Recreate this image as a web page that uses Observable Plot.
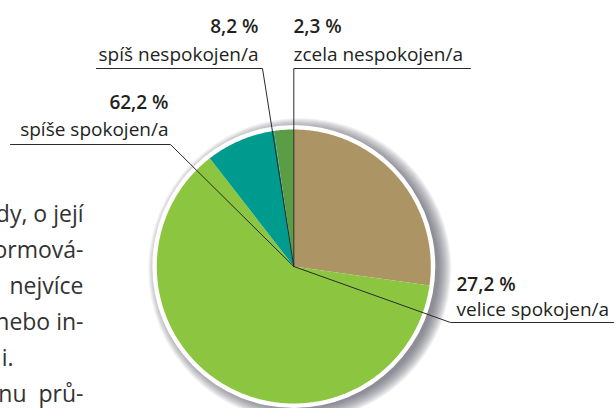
<!DOCTYPE html>
<html><head><meta charset="utf-8">
<script src="https://cdn.jsdelivr.net/npm/d3@7"></script>
<script src="https://cdn.jsdelivr.net/npm/@observablehq/plot@0.6"></script>
<style>html,body{margin:0;padding:0;background:#fff;overflow:hidden}</style>
</head><body><div id="chart"></div>
<script>
// ---- data ----
const categories = ["velice spokojen/a", "spíše spokojen/a", "spíš nespokojen/a", "zcela nespokojen/a"];
const values = [27.2, 62.2, 8.2, 2.3];
const valueLabels = ["27,2 %", "62,2 %", "8,2 %", "2,3 %"];
const colors = ["#ad9464", "#8cc540", "#009b8f", "#5b9d45"];
const bodyLines = ["dy, o její", "ormová-", "nejvíce", "nebo in-", "i.", "nu\u00a0\u00a0prů-"];

// ---- layout ----
const W = 614, H = 408, cx = 293.3, cy = 266, R = 137, ring = 4.5;
const labelLayout = [
  {x: 456, anchor: "start", yNum: 290, yText: 315, bend: [450, 322], end: [613, 322]},
  {x: 168, anchor: "end", yNum: 108, yText: 135, bend: [170, 144], end: [10, 144]},
  {x: 258, anchor: "end", yNum: 32, yText: 60, bend: [262, 68], end: [96, 68]},
  {x: 293, anchor: "start", yNum: 32, yText: 60, bend: [cx, 68], end: [470, 68]}
];
const bodyLayout = {xs: [83, 83, 83, 83, 13, 83], y0: 221, step: 36};
// soft drop shadow: stacked translucent discs, offset to the lower right
const shadowSteps = d3.range(14).map(k => ({x: cx + 6, y: cy + 3, r: R + ring - 3 + k}));

const arcs = d3.pie().sort(null)(values);
const slices = arcs.map((a, i) => {
  const pts = [{x: cx, y: cy}];
  const n = Math.max(2, Math.ceil((a.endAngle - a.startAngle) / (Math.PI / 360)));
  for (let k = 0; k <= n; k++) {
    const t = a.startAngle + (a.endAngle - a.startAngle) * k / n;
    pts.push({x: cx + R * Math.sin(t), y: cy - R * Math.cos(t)});
  }
  return {pts, color: colors[i], name: categories[i]};
});

const font = "'Open Sans', 'Noto Sans', sans-serif";
const marks = [
  ...shadowSteps.map(d => Plot.dot([d], {x: "x", y: "y", r: d.r, fill: "#555562", fillOpacity: 0.07, stroke: "none"})),
  Plot.dot([{x: cx, y: cy}], {x: "x", y: "y", r: R + ring, fill: "#fff", stroke: "none"}),
  ...slices.map(s => Plot.line(s.pts, {x: "x", y: "y", fill: s.color, stroke: "none", curve: "linear"})),
  ...labelLayout.map(l => Plot.line([{x: cx, y: cy}, {x: l.bend[0], y: l.bend[1]}, {x: l.end[0], y: l.end[1]}],
      {x: "x", y: "y", stroke: "#2a2a2a", strokeWidth: 1})),
  ...labelLayout.flatMap((l, i) => [
    Plot.text([valueLabels[i]], {x: () => l.x, y: () => l.yNum, text: d => d, textAnchor: l.anchor, lineAnchor: "bottom",
      fontSize: 19, fontWeight: 600, fontFamily: font, fill: "#231f20"}),
    Plot.text([categories[i]], {x: () => l.x, y: () => l.yText, text: d => d, textAnchor: l.anchor, lineAnchor: "bottom",
      fontSize: 19, fontFamily: font, fill: "#231f20"})
  ]),
  ...bodyLines.map((t, i) => Plot.text([t], {x: () => bodyLayout.xs[i], y: () => bodyLayout.y0 + i * bodyLayout.step, text: d => d,
      textAnchor: "end", lineAnchor: "bottom", fontSize: 23, fontFamily: font, fill: "#333"}))
];

const svg = Plot.plot({
  width: W, height: H, margin: 0,
  x: {domain: [0, W], range: [0, W], axis: null},
  y: {domain: [0, H], range: [0, H], axis: null},
  style: {background: "#fff", overflow: "hidden"},
  marks
});
document.getElementById("chart").appendChild(svg);
</script>
</body></html>
